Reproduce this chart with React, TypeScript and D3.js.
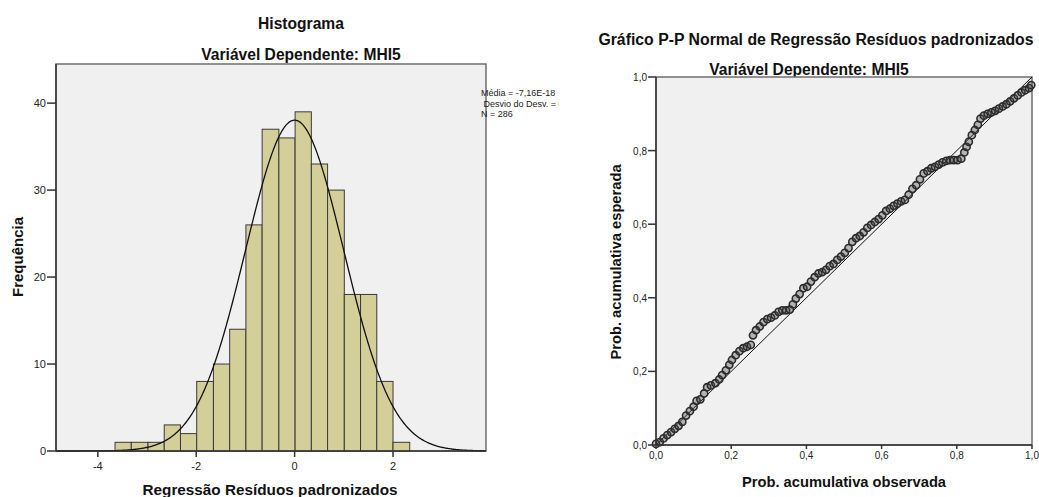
import React from "react";
import * as d3 from "d3";

// ---------- Histogram data ----------
const binEdges = [-3.65, -3.32, -2.98, -2.65, -2.32, -1.99, -1.65, -1.32, -0.99, -0.66, -0.32, 0.01, 0.34, 0.67, 1.01, 1.34, 1.67, 2.0, 2.34];
const binCounts = [1, 1, 1, 3, 2, 8, 10, 14, 26, 37, 36, 39, 33, 30, 18, 18, 8, 1];
const histXTicks = [-4, -2, 0, 2];
const histYTicks = [0, 10, 20, 30, 40];
const meanValue = -7.16e-18;
const sdValue = 0.998;
const nValue = 286;
const legendLines = ["Média = -7,16E-18", " Desvio do Desv. = 0,998", "N = 286"];

// ---------- P-P plot data (observed, expected) ----------
const ppObserved = [
  0.0, 0.01, 0.02, 0.03, 0.04, 0.05, 0.06, 0.07, 0.08, 0.09, 0.1, 0.108, 0.118, 0.128, 0.136, 0.146, 0.158, 0.168, 0.176, 0.186,
  0.195, 0.202, 0.212, 0.222, 0.232, 0.242, 0.252, 0.258, 0.266, 0.276, 0.286, 0.296, 0.306, 0.316, 0.326, 0.336, 0.346, 0.356, 0.364, 0.372,
  0.382, 0.392, 0.402, 0.412, 0.422, 0.432, 0.442, 0.452, 0.462, 0.472, 0.482, 0.492, 0.502, 0.512, 0.522, 0.532, 0.542, 0.552, 0.562, 0.572,
  0.582, 0.592, 0.602, 0.612, 0.622, 0.632, 0.642, 0.652, 0.662, 0.672, 0.682, 0.692, 0.702, 0.712, 0.722, 0.732, 0.742, 0.752, 0.762, 0.772,
  0.782, 0.792, 0.802, 0.812, 0.82, 0.826, 0.832, 0.84, 0.848, 0.856, 0.863, 0.872, 0.882, 0.892, 0.902, 0.912, 0.922, 0.932, 0.942, 0.952,
  0.962, 0.972, 0.982, 0.992, 0.998,
];
const ppExpected = [
  0.003, 0.008, 0.018, 0.027, 0.035, 0.044, 0.052, 0.063, 0.08, 0.092, 0.104, 0.12, 0.124, 0.14, 0.157, 0.162, 0.168, 0.178, 0.19, 0.203,
  0.218, 0.231, 0.244, 0.255, 0.263, 0.267, 0.272, 0.298, 0.312, 0.322, 0.334, 0.342, 0.346, 0.352, 0.362, 0.366, 0.366, 0.368, 0.382, 0.398,
  0.41, 0.426, 0.43, 0.444, 0.456, 0.466, 0.47, 0.476, 0.486, 0.492, 0.503, 0.512, 0.522, 0.535, 0.552, 0.562, 0.568, 0.578, 0.59, 0.598,
  0.606, 0.614, 0.624, 0.636, 0.642, 0.65, 0.656, 0.662, 0.666, 0.68, 0.696, 0.706, 0.722, 0.738, 0.744, 0.752, 0.756, 0.762, 0.768, 0.772,
  0.774, 0.774, 0.774, 0.778, 0.795, 0.81, 0.824, 0.842, 0.856, 0.87, 0.887, 0.895, 0.9, 0.904, 0.908, 0.914, 0.92, 0.926, 0.934, 0.942,
  0.95, 0.958, 0.964, 0.97, 0.978,
];
const ppTicks = [0, 0.2, 0.4, 0.6, 0.8, 1.0];

const FONT = "'Liberation Sans', Arial, sans-serif";
const BG = "#f0f0f0";
const FRAME = "#6f6f6f";
const BAR_FILL = "#d4cf98";
const BAR_STROKE = "#3a3a3a";

function fmtComma(v: number) {
  return v.toFixed(1).replace(".", ",");
}

function Histogram() {
  const L = 56, R = 486, T = 64, B = 451;
  const x = d3.scaleLinear().domain([-4.85, 3.89]).range([L, R]);
  const y = d3.scaleLinear().domain([0, 44.5]).range([B, T]);
  const binWidth = (binEdges[binEdges.length - 1] - binEdges[0]) / binCounts.length;
  const scaleN = nValue * binWidth;
  const curveXs = d3.range(-4.85, 3.891, 0.02);
  const line = d3
    .line<number>()
    .x((v) => x(v))
    .y((v) => y((scaleN / (sdValue * Math.sqrt(2 * Math.PI))) * Math.exp(-0.5 * ((v - meanValue) / sdValue) ** 2)))
    .curve(d3.curveLinear);

  return (
    <g fontFamily={FONT}>
      <defs>
        <clipPath id="histClip">
          <rect x={0} y={0} width={559} height={497} />
        </clipPath>
      </defs>
      <text x={301} y={29} textAnchor="middle" fontSize={15.6} fontWeight="bold" fill="#111">Histograma</text>
      <text x={301} y={60} textAnchor="middle" fontSize={15.6} fontWeight="bold" fill="#111">Variável Dependente: MHI5</text>
      <rect x={L} y={T} width={R - L} height={B - T} fill={BG} stroke={FRAME} strokeWidth={1.5} />
      {binCounts.map((c, i) => (
        <rect
          key={i}
          x={x(binEdges[i])}
          y={y(c)}
          width={x(binEdges[i + 1]) - x(binEdges[i])}
          height={y(0) - y(c)}
          fill={BAR_FILL}
          stroke={BAR_STROKE}
          strokeWidth={1}
        />
      ))}
      <path d={line(curveXs) || ""} fill="none" stroke="#111" strokeWidth={1.3} />
      <line x1={L} x2={R} y1={B} y2={B} stroke="#333" strokeWidth={1.5} />
      <line x1={L} x2={L} y1={T} y2={B} stroke="#333" strokeWidth={1.5} />
      {histYTicks.map((t) => (
        <g key={t}>
          <line x1={L - 9} x2={L} y1={y(t)} y2={y(t)} stroke="#333" strokeWidth={1.5} />
          <text x={L - 10} y={y(t) + 4} textAnchor="end" fontSize={11} fill="#222">{t}</text>
        </g>
      ))}
      {histXTicks.map((t) => (
        <g key={t}>
          <line x1={x(t)} x2={x(t)} y1={B} y2={B + 6} stroke="#333" strokeWidth={1.5} />
          <text x={x(t)} y={B + 19} textAnchor="middle" fontSize={11} fill="#222">{t}</text>
        </g>
      ))}
      <text x={270} y={495} textAnchor="middle" fontSize={15.3} fontWeight="bold" fill="#111">Regressão Resíduos padronizados</text>
      <text transform={`translate(23,257) rotate(-90)`} textAnchor="middle" fontSize={15} fontWeight="bold" fill="#111">Frequência</text>
      <g clipPath="url(#histClip)">
        {legendLines.map((s, i) => (
          <text key={i} x={481} y={96 + i * 10.5} fontSize={9} fill="#222" style={{ whiteSpace: "pre" }} xmlSpace="preserve">{s}</text>
        ))}
      </g>
    </g>
  );
}

function PPPlot() {
  const L = 656, R = 1032, T = 77, B = 445;
  const x = d3.scaleLinear().domain([0, 1]).range([L, R]);
  const y = d3.scaleLinear().domain([0, 1]).range([B, T]);
  return (
    <g fontFamily={FONT}>
      <text x={816} y={45} textAnchor="middle" fontSize={15.8} fontWeight="bold" fill="#111">Gráfico P-P Normal de Regressão Resíduos padronizados</text>
      <text x={809} y={75} textAnchor="middle" fontSize={15.6} fontWeight="bold" fill="#111">Variável Dependente: MHI5</text>
      <rect x={L} y={T} width={R - L} height={B - T} fill={BG} stroke={FRAME} strokeWidth={1.5} />
      <line x1={x(0)} y1={y(0)} x2={x(1)} y2={y(1)} stroke="#111" strokeWidth={1} />
      {ppObserved.map((o, i) => (
        <circle key={i} cx={x(o)} cy={y(ppExpected[i])} r={3.6} fill="rgba(70,70,70,0.35)" stroke="#2b2b2b" strokeWidth={1.6} />
      ))}
      <line x1={L} x2={R} y1={B} y2={B} stroke="#333" strokeWidth={1.5} />
      <line x1={L} x2={L} y1={T} y2={B} stroke="#333" strokeWidth={1.5} />
      {ppTicks.map((t) => (
        <g key={"y" + t}>
          <line x1={L - 8} x2={L} y1={y(t)} y2={y(t)} stroke="#333" strokeWidth={1.5} />
          <text x={L - 9} y={y(t) + 4} textAnchor="end" fontSize={10} fill="#222">{fmtComma(t)}</text>
        </g>
      ))}
      {ppTicks.map((t) => (
        <g key={"x" + t}>
          <line x1={x(t)} x2={x(t)} y1={B} y2={B + 4} stroke="#333" strokeWidth={1.5} />
          <text x={x(t)} y={B + 14} textAnchor="middle" fontSize={10} fill="#222">{fmtComma(t)}</text>
        </g>
      ))}
      <text x={844} y={487} textAnchor="middle" fontSize={14.7} fontWeight="bold" fill="#111">Prob. acumulativa observada</text>
      <text transform={`translate(621,262) rotate(-90)`} textAnchor="middle" fontSize={14.7} fontWeight="bold" fill="#111">Prob. acumulativa esperada</text>
    </g>
  );
}

export default function App() {
  return (
    <svg width={1039} height={497} style={{ position: "absolute", left: 0, top: 0, background: "#fff" }}>
      <rect x={0} y={0} width={1039} height={497} fill="#fff" />
      <Histogram />
      <PPPlot />
    </svg>
  );
}
